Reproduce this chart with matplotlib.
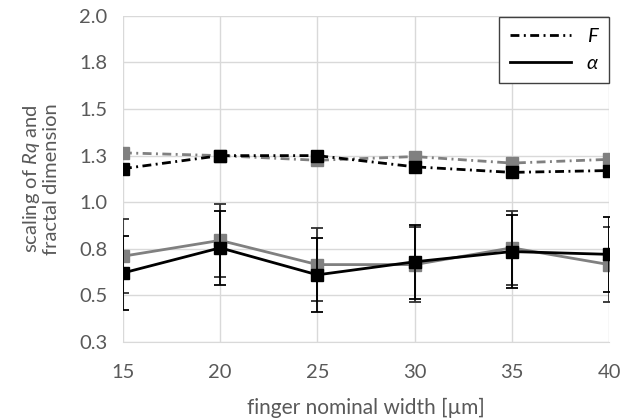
import matplotlib
matplotlib.use("Agg")
import matplotlib.pyplot as plt
from decimal import Decimal, ROUND_HALF_UP
from matplotlib.lines import Line2D
from matplotlib.ticker import FuncFormatter

plt.rcParams["font.family"] = ["Lato", "DejaVu Sans"]
plt.rcParams["mathtext.fontset"] = "custom"
plt.rcParams["mathtext.rm"] = "Lato"
plt.rcParams["mathtext.it"] = "Lato:italic"

# ── Datos ──────────────────────────────────────────────────────────────────────
widths = [15, 20, 25, 30, 35, 40]

F_black = [1.18, 1.25, 1.25, 1.19, 1.16, 1.17]
F_gray = [1.265, 1.25, 1.225, 1.245, 1.21, 1.23]

alpha_black = [0.62, 0.755, 0.61, 0.68, 0.735, 0.72]
alpha_gray = [0.71, 0.795, 0.665, 0.665, 0.755, 0.665]

err_black = [0.20, 0.197, 0.197, 0.197, 0.197, 0.20]
err_gray = [0.20, 0.195, 0.195, 0.20, 0.20, 0.20]

y_ticks = [0.25, 0.5, 0.75, 1.0, 1.25, 1.5, 1.75, 2.0]

TXT = "#595959"
GRID = "#d9d9d9"
GRAY = "#808080"
DASHDOT = (0, (3.2, 1.6, 0.7, 1.6))


def un_decimal(v, pos):
    # redondeo tipo Excel (0.25 -> 0.3)
    return str(Decimal(str(v)).quantize(Decimal("0.1"), rounding=ROUND_HALF_UP))


fig = plt.figure(figsize=(6.24, 4.19), dpi=100)
ax = fig.add_axes([0.197, 0.184, 0.779, 0.778])

# dimensión fractal F (sin barras de error)
ax.plot(widths, F_gray, color=GRAY, lw=2.0, ls=DASHDOT, marker="s", ms=8, zorder=3)
ax.plot(widths, F_black, color="black", lw=2.0, ls=DASHDOT, marker="s", ms=8, zorder=4)

# escalado alpha con barras de error
ax.errorbar(widths, alpha_gray, yerr=err_gray, color=GRAY, ecolor="#303030",
            lw=2.0, elinewidth=1.3, capsize=4, capthick=1.3, marker="s", ms=8, zorder=3)
ax.errorbar(widths, alpha_black, yerr=err_black, color="black", ecolor="black",
            lw=2.0, elinewidth=1.3, capsize=4, capthick=1.3, marker="s", ms=8, zorder=4)

ax.set_xlim(15, 40)
ax.set_ylim(0.25, 2.0)
ax.set_xticks(widths)
ax.set_yticks(y_ticks)
ax.yaxis.set_major_formatter(FuncFormatter(un_decimal))
ax.grid(True, color=GRID, lw=1.0, zorder=0)
ax.set_axisbelow(True)
for s in ax.spines.values():
    s.set_visible(False)
ax.spines["bottom"].set_visible(True)
ax.spines["bottom"].set_color(GRID)
ax.tick_params(length=0, labelsize=14.5, labelcolor=TXT, pad=16)
ax.tick_params(axis="y", pad=11)

ax.set_xlabel("finger nominal width [µm]", fontsize=15, color=TXT, labelpad=12)
ax.set_ylabel("scaling of $Rq$ and\nfractal dimension", fontsize=14.5, color=TXT,
              labelpad=14, linespacing=1.05)

handles = [
    Line2D([], [], color="black", lw=2.0, ls=DASHDOT),
    Line2D([], [], color="black", lw=2.0),
]
leg = ax.legend(handles, ["F", "α"], loc="upper right",
                bbox_to_anchor=(1.0, 0.997), frameon=True,
                prop={"size": 14.5, "style": "italic"},
                fancybox=False, edgecolor="#404040", framealpha=1,
                handlelength=3.0, borderpad=0.55, labelspacing=0.5,
                borderaxespad=0)
leg.get_frame().set_linewidth(1.0)

fig.savefig("out.png", dpi=100)
